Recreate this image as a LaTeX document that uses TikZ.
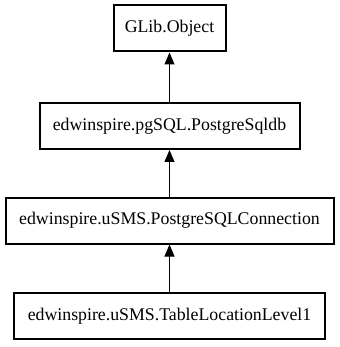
\documentclass[tikz,border=0pt]{standalone}
\usepackage{fontspec}
\setmainfont{Liberation Serif}
\usetikzlibrary{arrows.meta}
\begin{document}
\begin{tikzpicture}[x=1pt,y=-1pt,
  classbox/.style={draw=black, line width=2pt, fill=white, inner sep=0pt,
    minimum height=46pt, font=\fontsize{17.8pt}{20pt}\selectfont},
  inherit/.style={draw=black, line width=1pt,
    -{Triangle[length=12pt,width=10pt]}}]
  \useasboundingbox (0,0) rectangle (339,347);
  \node[classbox, minimum width=112pt] (glib) at (169.5,28.5) {GLib.Object};
  \node[classbox, minimum width=260pt] (pgdb) at (169.5,126) {edwinspire.pgSQL.PostgreSqldb};
  \node[classbox, minimum width=328pt] (conn) at (169.5,220.5) {edwinspire.uSMS.PostgreSQLConnection};
  \node[classbox, minimum width=311pt] (tll) at (169.5,316) {edwinspire.uSMS.TableLocationLevel1};
  \draw[inherit] (pgdb) -- (glib);
  \draw[inherit] (conn) -- (pgdb);
  \draw[inherit] (tll) -- (conn);
\end{tikzpicture}
\end{document}
